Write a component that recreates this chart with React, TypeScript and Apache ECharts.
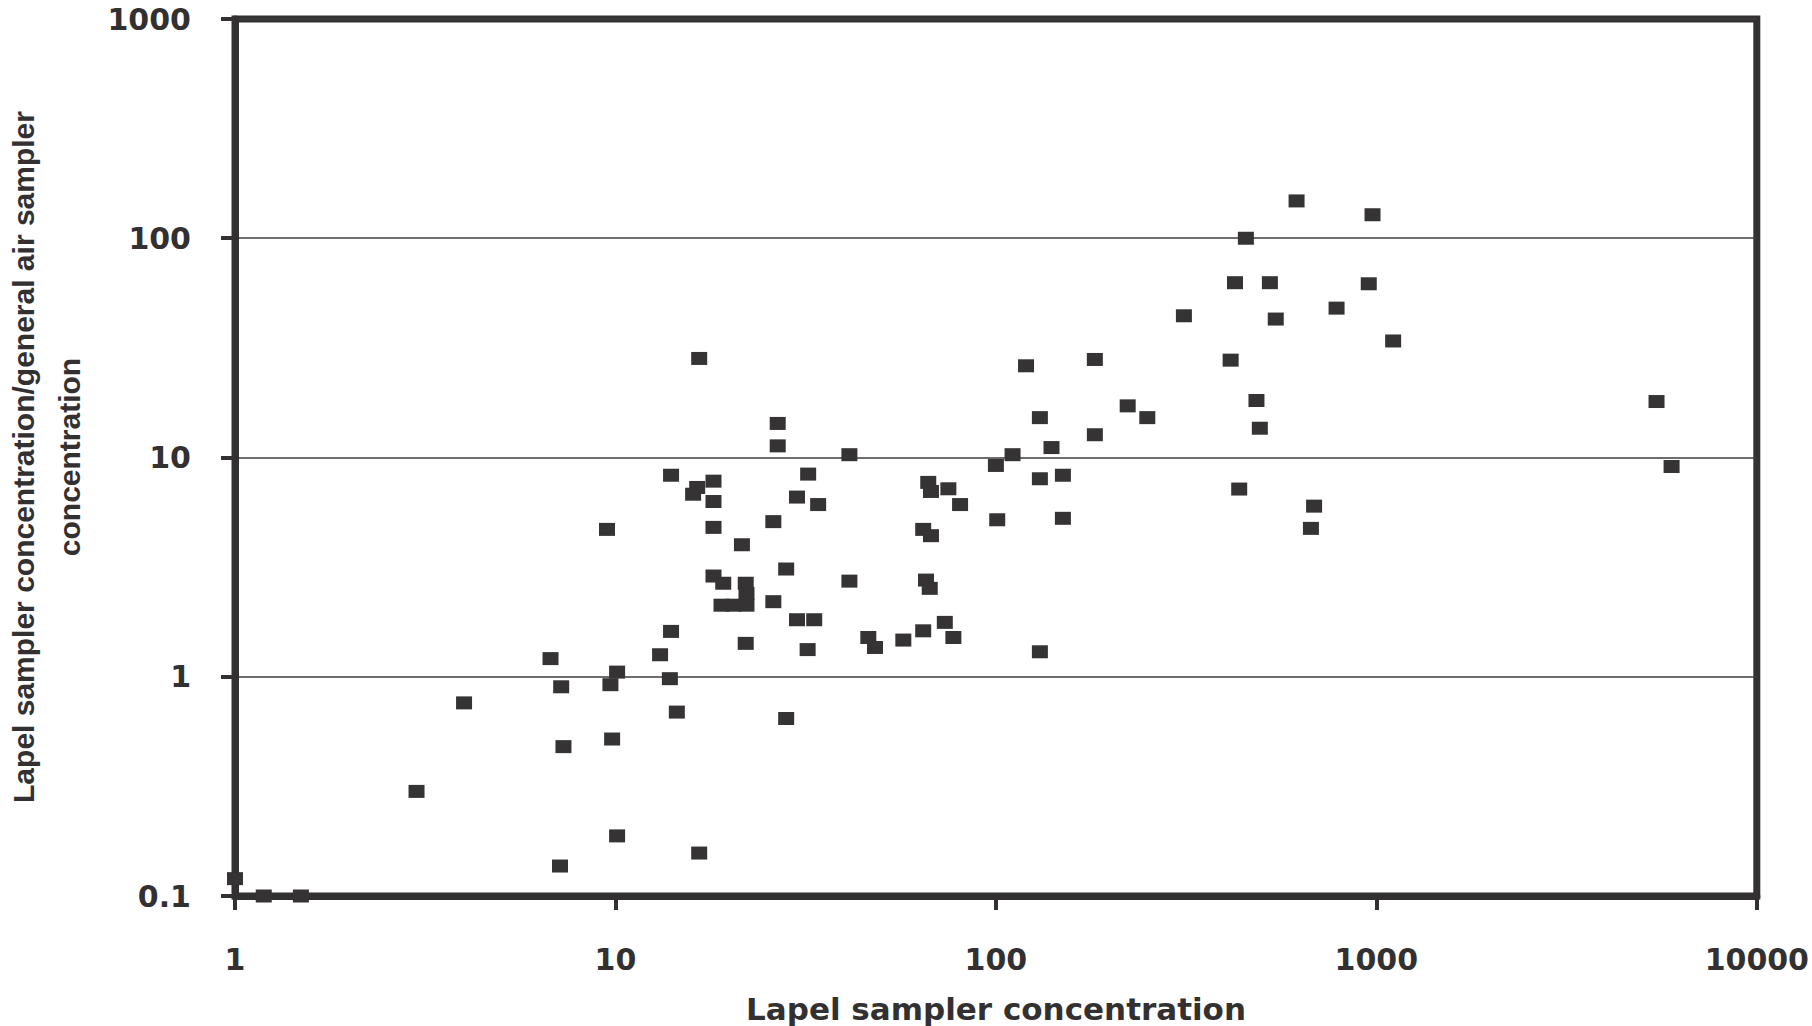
import React, { useEffect, useRef } from "react";
import * as echarts from "echarts";

// Lapel sampler concentration (x) and ratio lapel/general air sampler (y)
const lapelConc: number[] = [
  1.0, 1.19, 1.49, 3.0, 4.0, 6.75, 7.2, 7.3, 7.15, 9.5,
  9.7, 10.1, 9.8, 10.1, 13.1, 14.0, 13.9, 14.5, 14.0, 16.6,
  16.0, 16.4, 18.1, 18.1, 18.1, 16.6, 18.1, 19.2, 19.0, 20.4,
  22.1, 22.0, 22.1, 21.5, 22.0, 26.7, 26.7, 26.0, 26.0, 28.1,
  28.1, 30.0, 30.0, 33.3, 32.0, 32.1, 34.1, 41.2, 41.2, 46.2,
  48.1, 57.1, 64.4, 67.5, 65.5, 67.0, 64.4, 66.4, 67.5, 75.0,
  80.5, 73.4, 77.3, 100, 100.8, 110.6, 120, 130.5, 130.5, 130.5,
  140, 150, 150, 182, 182, 222, 250, 312, 414, 425,
  454, 436, 484, 494, 525, 544, 617, 686, 673, 786,
  955, 977, 1107, 5450, 5970,
];
const concRatio: number[] = [
  0.12, 0.1, 0.1, 0.30, 0.76, 1.21, 0.90, 0.48, 0.137, 4.7,
  0.92, 1.05, 0.52, 0.188, 1.26, 1.61, 0.98, 0.69, 8.3, 28.3,
  6.8, 7.3, 7.8, 6.3, 4.8, 0.157, 2.88, 2.67, 2.12, 2.12,
  2.12, 2.67, 2.4, 4.0, 1.42, 14.3, 11.3, 5.1, 2.2, 3.1,
  0.645, 6.6, 1.82, 1.82, 1.33, 8.4, 6.1, 10.3, 2.73, 1.51,
  1.36, 1.47, 4.7, 4.4, 2.76, 2.53, 1.62, 7.7, 7.0, 7.2,
  6.1, 1.77, 1.51, 9.2, 5.2, 10.3, 26.2, 15.2, 8.0, 1.30,
  11.1, 8.3, 5.28, 28.0, 12.7, 17.2, 15.2, 44.3, 27.8, 62.7,
  100, 7.18, 18.2, 13.6, 62.7, 42.8, 148, 6.0, 4.75, 48,
  62, 128, 34, 18, 9.1,
];

const xTitle = "Lapel sampler concentration";
const yTitle = "Lapel sampler concentration/general air sampler\nconcentration";

const INK = "#333031";

export default function App() {
  const ref = useRef<HTMLDivElement>(null);

  useEffect(() => {
    if (!ref.current) return;
    const chart = echarts.init(ref.current, undefined, { renderer: "svg" });
    const data = lapelConc.map((x, i) => [x, concRatio[i]]);
    const fmt = (v: number) => String(+Number(v).toPrecision(6));

    chart.setOption({
      animation: false,
      backgroundColor: "#ffffff",
      textStyle: { fontFamily: "DejaVu Sans" },
      grid: {
        left: 235,
        right: 55,
        top: 19,
        bottom: 130,
        show: true,
        borderWidth: 7,
        borderColor: INK,
        backgroundColor: "transparent",
      },
      xAxis: {
        type: "log",
        logBase: 10,
        min: 1,
        max: 10000,
        axisLine: { show: true, lineStyle: { color: INK, width: 7 } },
        axisTick: { show: true, length: 14, lineStyle: { color: INK, width: 4 } },
        splitLine: { show: false },
        minorTick: { show: false },
        axisLabel: {
          margin: 48,
          fontSize: 30,
          fontWeight: "bold",
          fontFamily: "DejaVu Sans",
          color: INK,
          formatter: fmt,
        },
      },
      yAxis: {
        type: "log",
        logBase: 10,
        min: 0.1,
        max: 1000,
        axisLine: { show: true, lineStyle: { color: INK, width: 7 } },
        axisTick: { show: true, length: 14, lineStyle: { color: INK, width: 4 } },
        splitLine: { show: true, lineStyle: { color: "#3e3e3e", width: 1.5 } },
        axisLabel: {
          margin: 44,
          fontSize: 30,
          fontWeight: "bold",
          fontFamily: "DejaVu Sans",
          color: INK,
          formatter: fmt,
        },
      },
      graphic: [
        {
          type: "text",
          x: 46,
          y: 457,
          rotation: Math.PI / 2,
          style: {
            text: yTitle,
            font: 'bold 30px "Liberation Sans"',
            fill: INK,
            textAlign: "center",
            textVerticalAlign: "middle",
            align: "center",
            verticalAlign: "middle",
            lineHeight: 46,
          },
        },
        {
          type: "text",
          x: 996,
          y: 1009,
          style: {
            text: xTitle,
            font: 'bold 31px "DejaVu Sans"',
            fill: INK,
            textAlign: "center",
            textVerticalAlign: "middle",
            align: "center",
            verticalAlign: "middle",
          },
        },
      ],
      series: [
        {
          type: "scatter",
          data,
          symbol: "rect",
          symbolSize: [16, 13],
          clip: false,
          itemStyle: { color: "#363334", opacity: 1 },
        },
      ],
    });

    return () => chart.dispose();
  }, []);

  return (
    <div
      ref={ref}
      style={{ position: "absolute", left: 0, top: 0, width: 1812, height: 1026 }}
    />
  );
}
